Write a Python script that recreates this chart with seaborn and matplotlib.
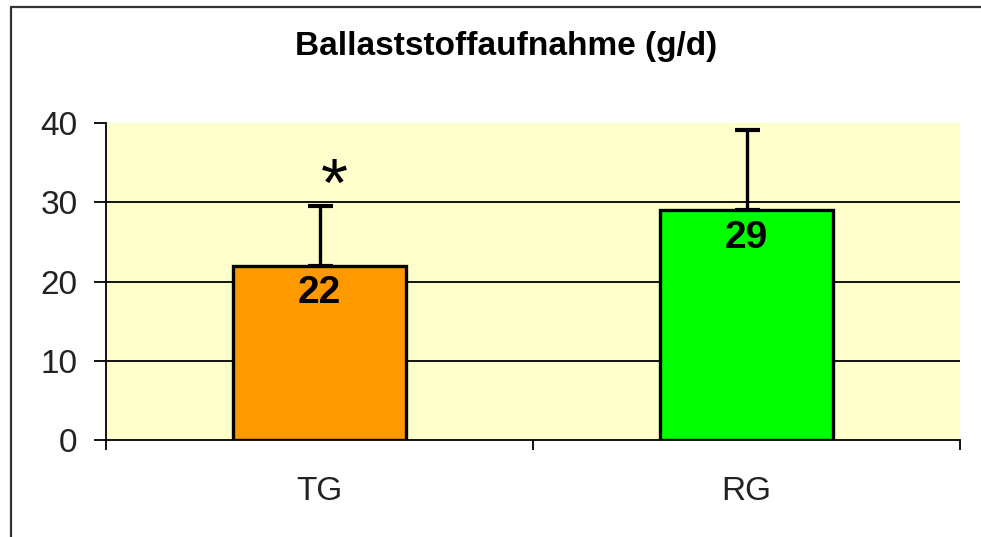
import matplotlib
matplotlib.use("Agg")
import matplotlib.pyplot as plt
from matplotlib.lines import Line2D
import seaborn as sns
import pandas as pd

# values
groups = ["TG", "RG"]
means = [22, 29]
sd_upper = [7.5, 10.1]
sig_marks = ["*", ""]
bar_colors = ["#FF9900", "#00FF00"]
y_ticks = [0, 10, 20, 30, 40]
title = "Ballaststoffaufnahme (g/d)"

sns.set_theme(style="white")
plt.rcParams["font.family"] = ["Liberation Sans", "DejaVu Sans"]

W, H = 981, 537
fig = plt.figure(figsize=(W / 100, H / 100), dpi=100)
ax = fig.add_axes([106 / W, 97 / H, 854 / W, 317 / H])
ax.set_facecolor("#FFFFCC")

df = pd.DataFrame({"group": groups, "mean": means})
sns.barplot(data=df, x="group", y="mean", hue="group", palette=bar_colors,
            saturation=1, legend=False, width=0.405, edgecolor="black",
            linewidth=2.4, ax=ax, zorder=3)

ax.errorbar(range(len(groups)), means, yerr=[[0] * len(groups), sd_upper],
            fmt="none", ecolor="black", elinewidth=2.4, capsize=9,
            capthick=3, zorder=2.5)

# horizontal lines inside the plot area (none at the top value)
for t in y_ticks[1:-1]:
    ax.axhline(t, color="black", lw=1.3, zorder=1)

ax.set_xlim(-0.5, len(groups) - 0.5)
ax.set_ylim(y_ticks[0], y_ticks[-1])
ax.set_yticks(y_ticks)
ax.set_xticks(range(len(groups)))
ax.set_xticklabels(groups)
ax.set_xticks([i - 0.5 for i in range(len(groups) + 1)], minor=True)
ax.set_xlabel("")
ax.set_ylabel("")

for s in ["top", "right"]:
    ax.spines[s].set_visible(False)
for s in ["left", "bottom"]:
    ax.spines[s].set_color("black")
    ax.spines[s].set_linewidth(1.3)

ax.tick_params(axis="y", direction="out", length=8.6, width=1.3,
               colors="black", labelsize=24, pad=12, left=True)
ax.tick_params(axis="x", which="major", length=0, labelsize=24, pad=26)
ax.tick_params(axis="x", which="minor", direction="out", length=7.5,
               width=1.3, color="black", bottom=True)
ax.tick_params(axis="both", labelcolor="#222222")

for i, m in enumerate(means):
    ax.text(i, m - 1.2, f"{m}", ha="center", va="top", fontsize=28,
            fontweight="bold", color="black", zorder=4)
    if sig_marks[i]:
        ax.text(i + 0.035, 29.6, sig_marks[i], ha="center", va="baseline",
                fontsize=50, color="black", zorder=4)

fig.text(0.516, 1 - 47 / H, title, ha="center", va="center", fontsize=24,
         fontweight="bold", color="black")

# frame lines of the chart area
fig.add_artist(Line2D([11 / W, 11 / W], [0, 1 - 7 / H],
                      transform=fig.transFigure, color="#333333", lw=1.6))
fig.add_artist(Line2D([11 / W, 1], [1 - 7 / H, 1 - 7 / H],
                      transform=fig.transFigure, color="#333333", lw=1.6))

fig.savefig("out.png", dpi=100)
